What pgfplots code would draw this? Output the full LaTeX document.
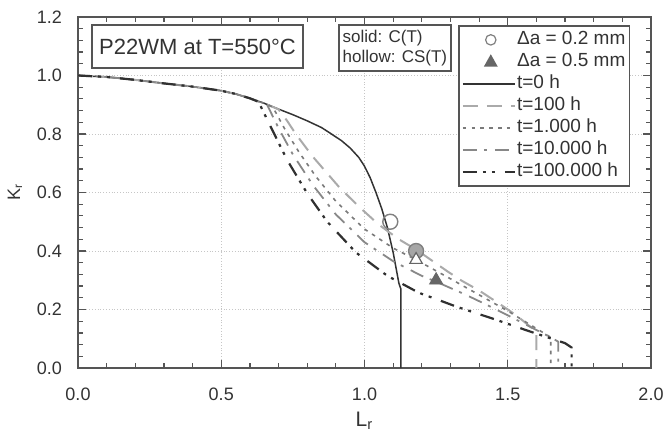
\documentclass[border=0pt]{standalone}
\usepackage{fontspec}
\setmainfont{Liberation Sans}
\usepackage{pgfplots}
\pgfplotsset{compat=1.18}

\definecolor{axgray}{HTML}{555555}
\definecolor{txtgray}{HTML}{333333}
\definecolor{cZero}{HTML}{333333}
\definecolor{cHund}{HTML}{AAAAAA}
\definecolor{cThou}{HTML}{7A7A7A}
\definecolor{cTenk}{HTML}{888888}
\definecolor{cHunk}{HTML}{303030}

\begin{document}
\begin{tikzpicture}
\begin{axis}[
    scale only axis,
    width=286.5pt, height=175.5pt,
    xmin=0, xmax=2, ymin=0, ymax=1.2,
    xtick={0,0.5,1,1.5,2},
    ytick={0,0.2,0.4,0.6,0.8,1.0,1.2},
    minor x tick num=4, minor y tick num=4,
    tick align=inside,
    major tick length=4pt, minor tick length=2.5pt,
    tick style={axgray, line width=0.6pt},
    axis line style={axgray, line width=0.8pt},
    grid=major,
    grid style={densely dotted, gray!45, line width=0.4pt},
    tick label style={font=\fontsize{9}{10}\selectfont, text=txtgray,
        /pgf/number format/assume math mode=true,
        /pgf/number format/fixed, /pgf/number format/fixed zerofill,
        /pgf/number format/precision=1},
    xticklabel style={yshift=-6.5pt},
    yticklabel style={xshift=-4.5pt},
    xlabel={L\textsubscript{r}},
    ylabel={K\textsubscript{r}},
    xlabel style={font=\fontsize{10.5}{12}\selectfont, text=txtgray,
        at={(axis description cs:0.5,-0.15)}, anchor=center},
    ylabel style={font=\fontsize{9}{10}\selectfont, text=txtgray,
        at={(axis description cs:-0.11,0.5)}, anchor=center},
    legend image code/.code={\draw[#1] (0pt,0pt) -- (26pt,0pt);},
    legend cell align=left,
    legend style={at={(axis description cs:0.663,0.977)}, anchor=north west,
        draw=axgray, line width=0.8pt, fill=white,
        font=\fontsize{9.5}{11}\selectfont, text=txtgray,
        inner sep=1.5pt, row sep=0pt,
        nodes={inner sep=0.6pt, text height=7.4pt, text depth=2.4pt}},
    legend entries={Δa = 0.2 mm, Δa = 0.5 mm, t=0 h, t=100 h, t=1.000 h,
        t=10.000 h, t=100.000 h},
]
% legend symbols for the crack extension markers
\addlegendimage{legend image code/.code={\path (0pt,0pt) (26pt,0pt);
    \draw[gray, line width=0.6pt] (14pt,0pt) circle (2.6pt);}}
\addlegendimage{legend image code/.code={\path (0pt,0pt) (26pt,0pt);
    \fill[black!60] (14pt,3pt) -- (16.8pt,-2pt) -- (11.2pt,-2pt) -- cycle;}}

% t = 0 h
\addplot[cZero, line width=0.75pt] coordinates {
    (0,1.0) (0.1,0.995) (0.2,0.985) (0.3,0.973) (0.4,0.962) (0.5,0.948)
    (0.55,0.937) (0.6,0.922) (0.65,0.905) (0.7,0.885) (0.75,0.866)
    (0.8,0.845) (0.85,0.822) (0.88,0.803) (0.92,0.777) (0.95,0.752)
    (0.98,0.72) (1.0,0.69) (1.02,0.65) (1.04,0.60) (1.06,0.545)
    (1.08,0.48) (1.10,0.395) (1.12,0.29) (1.127,0.27) (1.127,0)
};
% t = 100 h
\addplot[cHund, line width=1pt, dash pattern=on 7.5pt off 4.5pt] coordinates {
    (0,1.0) (0.1,0.995) (0.2,0.985) (0.3,0.973) (0.4,0.962) (0.5,0.948)
    (0.55,0.937) (0.6,0.922) (0.65,0.905) (0.70,0.884) (0.73,0.845)
    (0.76,0.80) (0.82,0.722) (0.91,0.62) (0.98,0.552) (1.05,0.49)
    (1.12,0.44) (1.18,0.405) (1.29,0.33) (1.34,0.298) (1.40,0.265)
    (1.47,0.22) (1.53,0.18) (1.58,0.14) (1.60,0.125) (1.60,0)
};
% t = 1.000 h
\addplot[cThou, line width=0.8pt, dash pattern=on 1.8pt off 2.6pt] coordinates {
    (0,1.0) (0.1,0.995) (0.2,0.985) (0.3,0.973) (0.4,0.962) (0.5,0.948)
    (0.55,0.937) (0.6,0.922) (0.65,0.905) (0.68,0.892) (0.72,0.82)
    (0.77,0.74) (0.83,0.655) (0.90,0.57) (1.0,0.475) (1.1,0.41)
    (1.18,0.37) (1.3,0.305) (1.4,0.25) (1.5,0.195) (1.6,0.135)
    (1.65,0.105) (1.65,0)
};
% t = 10.000 h
\addplot[cTenk, line width=0.9pt,
    dash pattern=on 7pt off 3.5pt on 1.5pt off 4pt] coordinates {
    (0,1.0) (0.1,0.995) (0.2,0.985) (0.3,0.973) (0.4,0.962) (0.5,0.948)
    (0.55,0.937) (0.6,0.922) (0.66,0.90) (0.70,0.82) (0.75,0.73)
    (0.82,0.625) (0.90,0.525) (1.0,0.43) (1.1,0.365) (1.2,0.315)
    (1.25,0.295) (1.35,0.252) (1.45,0.205) (1.55,0.155) (1.65,0.105)
    (1.676,0.09) (1.676,0)
};
% t = 100.000 h
\addplot[cHunk, line width=1.1pt,
    dash pattern=on 7pt off 3pt on 1.5pt off 3pt on 1.5pt off 5pt] coordinates {
    (0,1.0) (0.1,0.995) (0.2,0.985) (0.3,0.973) (0.4,0.962) (0.5,0.948)
    (0.55,0.937) (0.6,0.922) (0.63,0.91) (0.67,0.83) (0.73,0.711)
    (0.80,0.597) (0.87,0.50) (0.97,0.395) (1.08,0.315) (1.19,0.257)
    (1.26,0.232) (1.32,0.21) (1.45,0.168) (1.58,0.124) (1.70,0.085)
    (1.723,0.07) (1.723,0)
};

% crack extension points
\addplot[forget plot, only marks, mark=o, mark size=3.75pt,
    mark options={draw=gray, line width=0.7pt}] coordinates {(1.09,0.50)};
\addplot[forget plot, only marks, mark=*, mark size=3.75pt,
    mark options={draw=gray, fill=black!35, line width=0.7pt}] coordinates {(1.18,0.40)};
\addplot[forget plot, only marks, mark=triangle*, mark size=3.6pt,
    mark options={draw=black!60, fill=white, line width=0.6pt}] coordinates {(1.18,0.37)};
\addplot[forget plot, only marks, mark=triangle*, mark size=3.8pt,
    mark options={draw=black!60, fill=black!60}] coordinates {(1.25,0.30)};

\node[draw=axgray, line width=0.8pt, fill=white, text=txtgray,
    minimum width=105.5pt, minimum height=21.5pt,
    font=\fontsize{11}{13}\selectfont] at (axis cs:0.417,1.099) {P22WM at T=550°C};
\node[draw=axgray, line width=0.8pt, fill=white, text=txtgray,
    minimum width=56pt, minimum height=23pt, align=left, inner sep=1pt,
    font=\fontsize{8.5}{10}\selectfont] at (axis cs:1.106,1.094) {solid: C(T)\\hollow: CS(T)};
\end{axis}
\pgfresetboundingbox
\path ([xshift=-39pt,yshift=-32.5pt]current axis.south west)
    rectangle ([xshift=6pt,yshift=8.5pt]current axis.north east);
\end{tikzpicture}
\end{document}
